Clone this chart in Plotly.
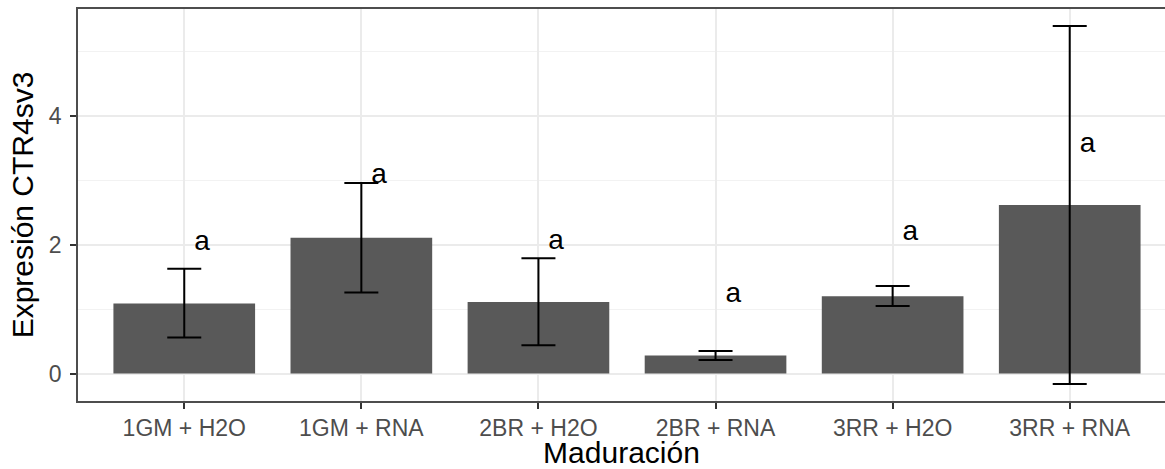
import plotly.graph_objects as go
import numpy as np

categories = ["1GM + H2O", "1GM + RNA", "2BR + H2O", "2BR + RNA", "3RR + H2O", "3RR + RNA"]
means = [1.09, 2.11, 1.11, 0.28, 1.20, 2.62]
err_upper = [1.63, 2.96, 1.79, 0.35, 1.36, 5.40]
err_lower = [0.56, 1.26, 0.44, 0.21, 1.05, -0.16]
letters = ["a", "a", "a", "a", "a", "a"]
letter_y = [2.03, 3.07, 2.04, 1.22, 2.18, 3.55]

x = np.arange(1, len(categories) + 1)
font = "Liberation Sans, Arial, sans-serif"

fig = go.Figure()
fig.add_trace(go.Bar(
    x=x, y=means, width=0.8,
    marker=dict(color="#595959", line=dict(width=0)),
    error_y=dict(type="data", symmetric=False,
                 array=[u - m for u, m in zip(err_upper, means)],
                 arrayminus=[m - l for m, l in zip(means, err_lower)],
                 color="black", thickness=2, width=17),
    showlegend=False, hoverinfo="skip",
))
fig.add_trace(go.Scatter(
    x=x + 0.1, y=letter_y, mode="text", text=letters,
    textposition="middle center",
    textfont=dict(family=font, size=28, color="black"),
    showlegend=False, hoverinfo="skip",
))

fig.update_layout(
    width=1165, height=469,
    margin=dict(l=78, r=0, t=9, b=68),
    paper_bgcolor="white", plot_bgcolor="white",
    font=dict(family=font),
    bargap=0.2,
)
fig.update_xaxes(
    range=[0.4, 6.538],
    tickmode="array", tickvals=x, ticktext=categories,
    tickfont=dict(family=font, size=23, color="#4D4D4D"),
    ticks="outside", ticklen=6, tickwidth=1.5, tickcolor="#333333",
    showgrid=True, gridcolor="#EBEBEB", gridwidth=1.5,
    showline=True, linecolor="#4D4D4D", linewidth=1.5, mirror=True,
    zeroline=False,
    title=dict(text="Maduración", font=dict(family=font, size=30, color="black"), standoff=4),
)
fig.update_yaxes(
    range=[-0.426, 5.663],
    tickmode="linear", tick0=0, dtick=2,
    tickfont=dict(family=font, size=23, color="#4D4D4D"),
    ticks="outside", ticklen=6, tickwidth=1.5, tickcolor="#333333",
    showgrid=True, gridcolor="#EBEBEB", gridwidth=1.5,
    minor=dict(tick0=0, dtick=1, showgrid=True, gridcolor="#F2F2F2", gridwidth=1, ticks=""),
    showline=True, linecolor="#4D4D4D", linewidth=1.5, mirror=False,
    zeroline=False,
    ticklabelstandoff=4,
    title=dict(text="Expresión CTR4sv3", font=dict(family=font, size=30, color="black"), standoff=6),
)

fig.write_html("out.html")
